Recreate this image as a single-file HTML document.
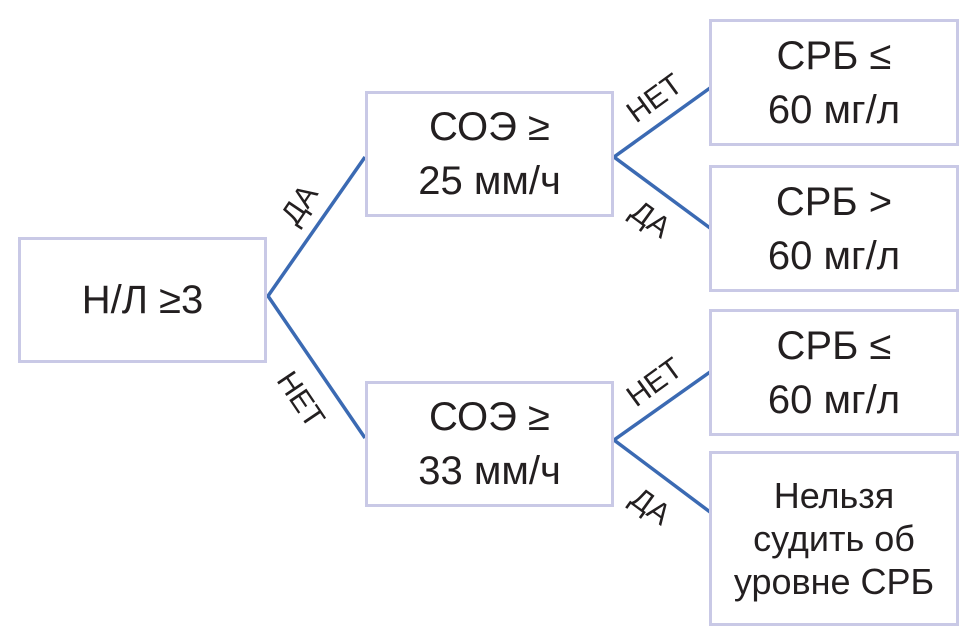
<!DOCTYPE html>
<html><head><meta charset="utf-8"><style>
body{margin:0;width:973px;height:642px;background:#fff;position:relative;overflow:hidden;font-family:"Liberation Sans",sans-serif;color:#231f20}
.b{position:absolute;box-sizing:border-box;border:3px solid #c9c9e6;display:flex;align-items:center;justify-content:center;text-align:center;font-size:40px;line-height:54px}
.l{position:absolute;font-size:30px;transform-origin:center;white-space:nowrap}
</style></head><body>
<svg width="973" height="642" style="position:absolute;left:0;top:0">
<g stroke="#3b6ab3" stroke-width="3.5" fill="none">
<polyline points="365,157 268,296 365,438"/>
<polyline points="710,88 614,157 710,228"/>
<polyline points="710,372 614,440 710,512"/>
</g></svg>
<div class="b" style="left:18px;top:237px;width:249px;height:126px">Н/Л ≥3</div>
<div class="b" style="left:365px;top:91px;width:249px;height:126px">СОЭ ≥<br>25 мм/ч</div>
<div class="b" style="left:365px;top:381px;width:249px;height:126px">СОЭ ≥<br>33 мм/ч</div>
<div class="b" style="left:709px;top:19px;width:250px;height:127px">СРБ ≤<br>60 мг/л</div>
<div class="b" style="left:709px;top:165px;width:250px;height:127px">СРБ &gt;<br>60 мг/л</div>
<div class="b" style="left:709px;top:309px;width:250px;height:127px">СРБ ≤<br>60 мг/л</div>
<div class="b" style="left:709px;top:451px;width:250px;height:175px;font-size:36px;line-height:43px">Нельзя<br>судить об<br>уровне СРБ</div>
<div class="l" style="left:280px;top:188px;transform:rotate(-56deg)">ДА</div>
<div class="l" style="left:270px;top:383px;transform:rotate(56deg)">НЕТ</div>
<div class="l" style="left:625px;top:82px;transform:rotate(-36deg)">НЕТ</div>
<div class="l" style="left:630px;top:203px;transform:rotate(36deg)">ДА</div>
<div class="l" style="left:625px;top:366px;transform:rotate(-36deg)">НЕТ</div>
<div class="l" style="left:630px;top:490px;transform:rotate(36deg)">ДА</div>
</body></html>
